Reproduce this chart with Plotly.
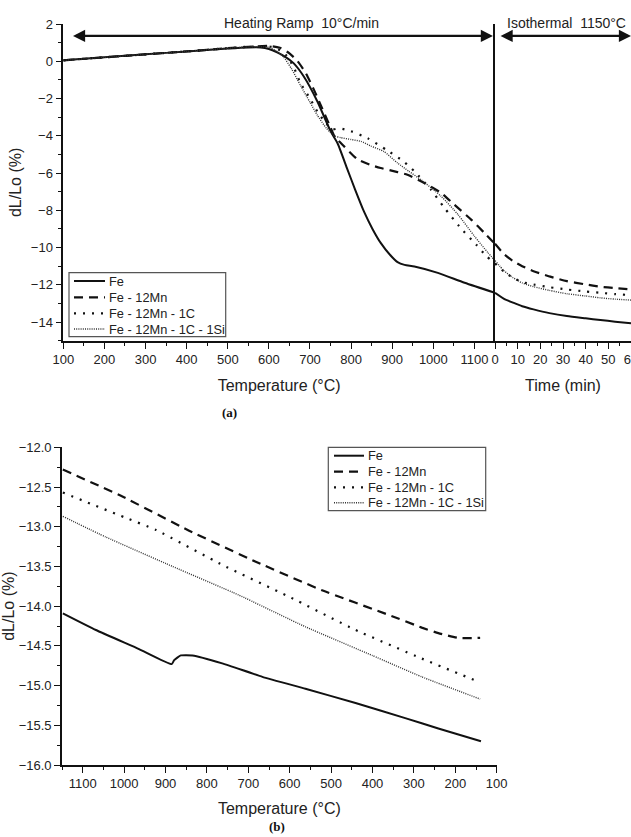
import plotly.graph_objects as go

W, H = 631, 837

series_names = ["Fe", "Fe - 12Mn", "Fe - 12Mn - 1C", "Fe - 12Mn - 1C - 1Si"]

# ---------- Panel (a): heating ramp (temperature) ----------
fe_T = [100, 200, 300, 400, 500, 550, 580, 600, 620, 640, 660, 685, 718, 750, 767, 791, 810, 832, 852, 872, 895, 913, 930, 954, 1011, 1076, 1150]
fe_y = [0.05, 0.21, 0.37, 0.53, 0.68, 0.74, 0.74, 0.66, 0.48, 0.24, -0.1, -0.82, -2.16, -3.75, -4.4, -5.8, -6.9, -8.1, -9.0, -9.75, -10.4, -10.78, -10.93, -11.02, -11.36, -11.89, -12.43]

mn_T = [100, 200, 300, 400, 500, 550, 600, 630, 650, 670, 690, 710, 730, 750, 760, 783, 815, 845, 872, 913, 937, 978, 1019, 1051, 1092, 1124, 1150]
mn_y = [0.05, 0.21, 0.37, 0.53, 0.7, 0.78, 0.82, 0.7, 0.42, 0.0, -0.65, -1.55, -2.55, -3.55, -4.04, -4.57, -5.25, -5.55, -5.73, -5.95, -6.09, -6.54, -7.07, -7.7, -8.5, -9.21, -9.8]

c_T = [100, 200, 300, 400, 500, 550, 600, 620, 640, 660, 677, 700, 718, 740, 755, 772, 799, 840, 889, 929, 954, 994, 1027, 1063, 1104, 1129, 1150]
c_y = [0.05, 0.21, 0.37, 0.53, 0.7, 0.78, 0.8, 0.68, 0.38, -0.3, -1.18, -2.0, -2.7, -3.35, -3.65, -3.6, -3.75, -4.13, -4.8, -5.4, -5.91, -6.89, -7.87, -8.86, -9.84, -10.46, -10.85]

si_T = [100, 200, 300, 400, 500, 550, 600, 615, 635, 655, 677, 700, 718, 740, 759, 775, 800, 824, 848, 880, 913, 940, 970, 1019, 1060, 1100, 1133, 1150]
si_y = [0.05, 0.21, 0.37, 0.53, 0.7, 0.77, 0.75, 0.6, 0.25, -0.4, -1.3, -2.2, -2.9, -3.6, -4.0, -4.1, -4.2, -4.3, -4.55, -4.85, -5.46, -5.9, -6.36, -7.25, -8.23, -9.39, -10.28, -10.7]

# ---------- Panel (a): isothermal hold (time) ----------
t_min = [0, 4, 8, 12, 17, 24, 31.7, 40, 46.5, 53, 60]
fe_iso = [-12.43, -12.75, -12.96, -13.15, -13.32, -13.52, -13.68, -13.8, -13.89, -13.98, -14.07]
mn_iso = [-9.8, -10.35, -10.73, -11.0, -11.27, -11.55, -11.8, -11.98, -12.1, -12.18, -12.25]
c_iso = [-10.85, -11.3, -11.62, -11.85, -11.98, -12.13, -12.25, -12.36, -12.43, -12.5, -12.55]
si_iso = [-10.7, -11.25, -11.62, -11.9, -12.1, -12.3, -12.48, -12.6, -12.7, -12.77, -12.82]

# ---------- Panel (b): cooling ----------
fe_Tb = [1148, 1068, 964, 885, 879, 863, 835, 763, 666, 562, 441, 321, 241, 138]
fe_yb = [-14.09, -14.30, -14.54, -14.73, -14.68, -14.62, -14.62, -14.72, -14.89, -15.04, -15.22, -15.41, -15.54, -15.70]
mn_Tb = [1148, 1004, 843, 682, 522, 361, 281, 241, 193, 140]
mn_yb = [-12.28, -12.62, -13.05, -13.44, -13.80, -14.11, -14.27, -14.34, -14.40, -14.40]
c_Tb = [1148, 1000, 923, 763, 602, 441, 281, 140]
c_yb = [-12.57, -12.88, -13.04, -13.48, -13.88, -14.30, -14.66, -14.96]
si_Tb = [1148, 1044, 883, 723, 562, 401, 281, 140]
si_yb = [-12.87, -13.13, -13.50, -13.86, -14.26, -14.62, -14.89, -15.17]

ramp_label = "Heating Ramp  10°C/min"
iso_label = "Isothermal  1150°C"
panel_labels = ["(a)", "(b)"]

styles = [
    dict(color="#111111", width=2, dash="solid"),
    dict(color="#111111", width=2.2, dash="9px,6px"),
    dict(color="#111111", width=2.2, dash="2px,7px"),
    dict(color="#333333", width=1.4, dash="1px,1.2px"),
]

def px(x):
    return x / W

def py(y):
    return 1 - y / H

fig = go.Figure()

temp_sets = [(fe_T, fe_y), (mn_T, mn_y), (c_T, c_y), (si_T, si_y)]
iso_sets = [fe_iso, mn_iso, c_iso, si_iso]
cool_sets = [(fe_Tb, fe_yb), (mn_Tb, mn_yb), (c_Tb, c_yb), (si_Tb, si_yb)]

for i, name in enumerate(series_names):
    T, y = temp_sets[i]
    fig.add_trace(go.Scatter(x=T, y=y, mode="lines", name=name, line=dict(styles[i], shape="spline", smoothing=0.6),
                             xaxis="x", yaxis="y", showlegend=False))
for i, name in enumerate(series_names):
    fig.add_trace(go.Scatter(x=t_min, y=iso_sets[i], mode="lines", name=name, line=dict(styles[i], shape="spline", smoothing=0.6),
                             xaxis="x2", yaxis="y2", showlegend=False))
for i, name in enumerate(series_names):
    T, y = cool_sets[i]
    fig.add_trace(go.Scatter(x=T, y=y, mode="lines", name=name, line=dict(styles[i], shape="spline", smoothing=0.4),
                             xaxis="x3", yaxis="y3", showlegend=False))

tickfont = dict(family="Liberation Sans, Arial", size=13, color="#222222")
titlefont = dict(family="Liberation Sans, Arial", size=16, color="#222222")
axis_common = dict(showline=True, linecolor="#111111", linewidth=1.6, ticks="outside", ticklen=6, tickwidth=1.4,
                   tickcolor="#111111", tickfont=tickfont, showgrid=False, zeroline=False, automargin=False,
                   ticklabeloverflow="allow",
                   minor=dict(ticks="outside", ticklen=3.5, tickwidth=1.2, tickcolor="#111111", showgrid=False))

fig.update_layout(
    width=W, height=H, autosize=False,
    margin=dict(l=0, r=0, t=0, b=0),
    paper_bgcolor="white", plot_bgcolor="white",
    showlegend=False,
    xaxis=dict(axis_common, domain=[px(63.3), px(495)], range=[100, 1150], dtick=100, tick0=100,
               minor=dict(axis_common["minor"], dtick=50, tick0=100),
               anchor="y", title=dict(text="Temperature (°C)", font=titlefont, standoff=14)),
    yaxis=dict(axis_common, domain=[py(340.7), py(24)], range=[-15, 2], dtick=2, tick0=0,
               minor=dict(axis_common["minor"], dtick=1, tick0=0),
               anchor="x", title=dict(text="dL/Lo (%)", font=titlefont, standoff=5)),
    xaxis2=dict(axis_common, domain=[px(495), 1.0], range=[0, 60], dtick=10, tick0=0,
                minor=dict(axis_common["minor"], dtick=5, tick0=0),
                anchor="y2", title=dict(text="Time (min)", font=titlefont, standoff=14)),
    yaxis2=dict(domain=[py(340.7), py(24)], range=[-15, 2], anchor="x2", showline=True, linecolor="#111111",
                linewidth=1.6, showticklabels=False, ticks="", showgrid=False, zeroline=False, automargin=False),
    xaxis3=dict(axis_common, domain=[px(62), px(496.7)], range=[1150, 100], dtick=100, tick0=100,
                minor=dict(axis_common["minor"], dtick=50, tick0=100),
                anchor="y3", title=dict(text="Temperature (°C)", font=titlefont, standoff=12)),
    yaxis3=dict(axis_common, domain=[py(765), py(447.3)], range=[-16, -12], dtick=0.5, tick0=-12, tickformat=".1f",
                minor=dict(axis_common["minor"], dtick=0.25, tick0=-12),
                anchor="x3", title=dict(text="dL/Lo (%)", font=titlefont, standoff=6)),
)

# ---- legends (key lines + names), one box per panel ----
legend_font = dict(family="Liberation Sans, Arial", size=12.8, color="#222222")
legend_boxes = [
    dict(box=(69, 272.7, 225.7, 336.7), key=(74, 105), text_x=106.5, rows=[281, 297.3, 313.3, 329]),
    dict(box=(328.3, 447.3, 485.7, 510.7), key=(334, 364), text_x=366, rows=[455.7, 471.7, 487.3, 502.7]),
]
for lg in legend_boxes:
    x0, y0, x1, y1 = lg["box"]
    fig.add_shape(type="rect", xref="paper", yref="paper", x0=px(x0), x1=px(x1), y0=py(y1), y1=py(y0),
                  line=dict(color="#555555", width=1.2), fillcolor="white", layer="above")
    for i, name in enumerate(series_names):
        ry = lg["rows"][i]
        st = styles[i]
        fig.add_shape(type="line", xref="paper", yref="paper", x0=px(lg["key"][0]), x1=px(lg["key"][1]),
                      y0=py(ry), y1=py(ry), line=dict(color=st["color"], width=st["width"], dash=st["dash"]), layer="above")
        fig.add_annotation(x=px(lg["text_x"]), y=py(ry), xref="paper", yref="paper", text=name, showarrow=False,
                           xanchor="left", yanchor="middle", font=legend_font)

# arrows over the two stages
fig.add_annotation(x=1145, y=1.36, ax=120, ay=1.36, xref="x", yref="y", axref="x", ayref="y", text="",
                   showarrow=True, arrowhead=2, arrowside="end+start", arrowsize=1.1, arrowwidth=2.2, arrowcolor="#111111")
fig.add_annotation(x=60, y=1.36, ax=1.8, ay=1.36, xref="x2", yref="y2", axref="x2", ayref="y2", text="",
                   showarrow=True, arrowhead=2, arrowside="end+start", arrowsize=1.1, arrowwidth=2.2, arrowcolor="#111111")
fig.add_annotation(x=px(301.3), y=py(23), xref="paper", yref="paper", text=ramp_label, showarrow=False,
                   font=dict(family="Liberation Sans, Arial", size=14, color="#222222"), xanchor="center", yanchor="middle")
fig.add_annotation(x=px(566), y=py(23), xref="paper", yref="paper", text=iso_label, showarrow=False,
                   font=dict(family="Liberation Sans, Arial", size=14, color="#222222"), xanchor="center", yanchor="middle")
fig.add_annotation(x=px(229.3), y=py(412.7), xref="paper", yref="paper", text="<b>" + panel_labels[0] + "</b>", showarrow=False,
                   xanchor="center", yanchor="middle",
                   font=dict(family="Liberation Serif, Times New Roman", size=13, color="#111111"))
fig.add_annotation(x=px(277), y=py(826), xref="paper", yref="paper", text="<b>" + panel_labels[1] + "</b>", showarrow=False,
                   xanchor="center", yanchor="middle",
                   font=dict(family="Liberation Serif, Times New Roman", size=13, color="#111111"))

fig.write_html("out.html")
